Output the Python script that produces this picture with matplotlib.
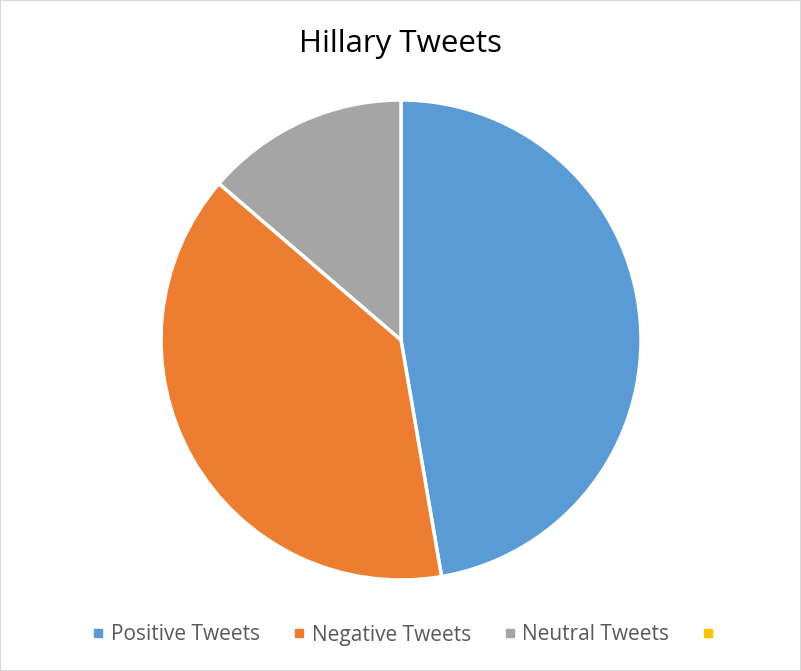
import matplotlib
matplotlib.use("Agg")
import matplotlib.pyplot as plt
from matplotlib.lines import Line2D
from matplotlib.patches import Rectangle

categories = ["Positive Tweets", "Negative Tweets", "Neutral Tweets", ""]
shares = [47.3, 39.0, 13.7, 0.0]
colors = ["#5b9bd5", "#ed7d31", "#a5a5a5", "#ffc000"]

W, H = 801, 671
fig = plt.figure(figsize=(W / 100, H / 100), dpi=100)
fig.patch.set_facecolor("white")
fig.patches.append(Rectangle((0, 0), 1, 1, transform=fig.transFigure,
                             fill=False, edgecolor="#d9d9d9", linewidth=1.5))

cx, cy, r = 401, 340, 240
ax = fig.add_axes([(cx - r) / W, (H - cy - r) / H, 2 * r / W, 2 * r / H])

vals = [(s, c) for s, c in zip(shares, colors) if s > 0]
ax.pie([v for v, _ in vals], colors=[c for _, c in vals], startangle=90,
       counterclock=False, radius=1,
       wedgeprops=dict(edgecolor="white", linewidth=2.5))
ax.set_xlim(-1, 1)
ax.set_ylim(-1, 1)
ax.set_aspect("equal")
ax.axis("off")

fig.text(400 / W, 1 - 44 / H, "Hillary Tweets", ha="center", va="center",
         fontsize=22.5, color="black", family="Open Sans")

handles = [Line2D([], [], marker="s", linestyle="none", markersize=6,
                  markerfacecolor=c, markeredgecolor=c) for c in colors]
fig.legend(handles, categories, loc="center", bbox_to_anchor=(407 / W, 1 - 635 / H),
           ncol=4, frameon=False, handlelength=0.5, handletextpad=0.35,
           columnspacing=1.62, prop=dict(family="Open Sans", size=15),
           labelcolor="#595959")

fig.savefig("out.png", dpi=100, facecolor="white")
